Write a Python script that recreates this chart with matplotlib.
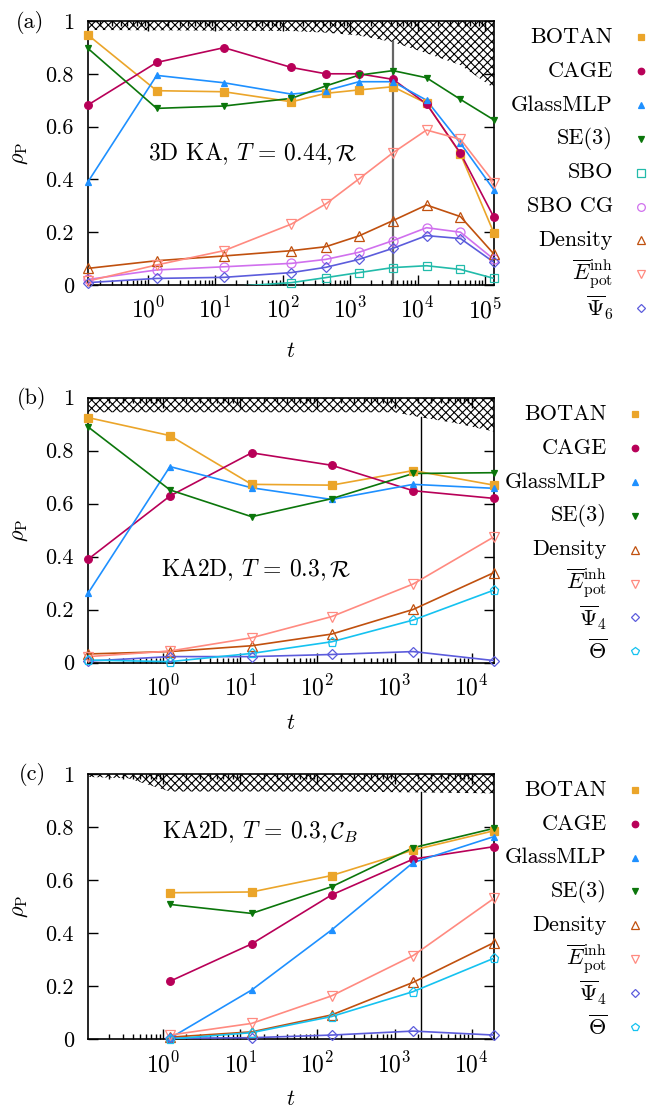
import numpy as np
import matplotlib
matplotlib.use("Agg")
import matplotlib.pyplot as plt
from matplotlib.lines import Line2D
from matplotlib.ticker import LogLocator, FixedLocator, NullFormatter, LogFormatterSciNotation

plt.rcParams['font.family'] = ['cmr10', 'DejaVu Serif']
plt.rcParams['mathtext.fontset'] = 'cm'
plt.rcParams['axes.formatter.use_mathtext'] = True
plt.rcParams['hatch.linewidth'] = 0.8

FS = 16

# ---------------- data ----------------
# panel (a): 3D KA, T=0.44, R
t_a = [0.1306, 1.36, 13.5, 135, 435, 1350, 4300, 13500, 43000, 134900]
a_botan = [0.947, 0.736, 0.732, 0.694, 0.726, 0.739, 0.751, 0.688, 0.496, 0.196]
a_cage = [0.682, 0.843, 0.899, 0.824, 0.800, 0.800, 0.779, 0.686, 0.499, 0.256]
a_glassmlp = [0.391, 0.794, 0.766, 0.723, 0.736, 0.770, 0.770, 0.700, 0.537, 0.360]
a_se3 = [0.896, 0.669, 0.678, 0.707, 0.754, 0.795, 0.812, 0.785, 0.703, 0.625]
a_sbo = [-0.02, -0.012, -0.008, 0.009, 0.028, 0.047, 0.066, 0.073, 0.059, 0.025]
a_sbocg = [0.021, 0.057, 0.069, 0.082, 0.097, 0.124, 0.168, 0.217, 0.200, 0.097]
a_density = [0.063, 0.092, 0.110, 0.130, 0.145, 0.186, 0.244, 0.303, 0.259, 0.117]
a_epot = [0.015, 0.076, 0.130, 0.231, 0.307, 0.402, 0.501, 0.587, 0.552, 0.388]
a_psi = [0.009, 0.025, 0.029, 0.047, 0.067, 0.097, 0.139, 0.187, 0.176, 0.086]
a_hatch_t = [0.1306, 135, 435, 1350, 4300, 13500, 43000, 134900]
a_hatch_y = [0.966, 0.962, 0.956, 0.945, 0.920, 0.878, 0.833, 0.745]
a_vline = 4300
a_xticks = [1, 10, 100, 1e3, 1e4, 1e5]

# panel (b): KA2D, T=0.3, R
t_b = [0.1055, 1.22, 14.0, 153, 1745, 19500]
b_botan = [0.925, 0.857, 0.673, 0.670, 0.725, 0.670]
b_cage = [0.390, 0.629, 0.792, 0.745, 0.649, 0.620]
b_glassmlp = [0.262, 0.740, 0.660, 0.616, 0.673, 0.658]
b_se3 = [0.890, 0.652, 0.551, 0.619, 0.714, 0.717]
b_density = [0.033, 0.042, 0.064, 0.108, 0.201, 0.340]
b_epot = [0.023, 0.044, 0.094, 0.174, 0.297, 0.475]
b_psi = [0.006, 0.023, 0.023, 0.031, 0.042, 0.008]
b_theta = [0.010, 0.004, 0.035, 0.079, 0.161, 0.274]
b_hatch_t = [0.1055, 1000, 2180, 6000, 19500]
b_hatch_y = [0.945, 0.945, 0.926, 0.905, 0.872]
b_vline = 2180
bc_xticks = [1, 10, 100, 1e3, 1e4]

# panel (c): KA2D, T=0.3, C_B
t_c = [1.22, 14.0, 153, 1745, 19500]
c_botan = [0.553, 0.556, 0.618, 0.714, 0.787]
c_cage = [0.219, 0.360, 0.545, 0.680, 0.727]
c_glassmlp = [0.004, 0.186, 0.413, 0.667, 0.765]
c_se3 = [0.509, 0.475, 0.576, 0.723, 0.796]
c_density = [0.008, 0.028, 0.092, 0.215, 0.365]
c_epot = [0.016, 0.060, 0.164, 0.316, 0.532]
c_psi = [0.004, 0.006, 0.016, 0.031, 0.016]
c_theta = [0.001, 0.025, 0.086, 0.180, 0.306]
c_hatch_t = [0.1055, 0.35, 1.22, 153, 1745, 19500]
c_hatch_y = [0.99, 0.985, 0.935, 0.935, 0.932, 0.928]
c_vline = 2180

y_ticks = [0, 0.2, 0.4, 0.6, 0.8, 1]
y_ticklabels = ["0", "0.2", "0.4", "0.6", "0.8", "1"]

# ---------------- styles ----------------
STY = {
    'BOTAN':    dict(color='#EBA52A', marker='s', mfc='#EBA52A', ms=5.5),
    'CAGE':     dict(color='#B80058', marker='o', mfc='#B80058', ms=5.5),
    'GlassMLP': dict(color='#1E90FF', marker='^', mfc='#1E90FF', ms=5),
    'SE(3)':    dict(color='#0B760B', marker='v', mfc='#0B760B', ms=5),
    'SBO':      dict(color='#22BBAA', marker='s', mfc='none', ms=6),
    'SBO CG':   dict(color='#D070EE', marker='o', mfc='none', ms=6.5),
    'Density':  dict(color='#C0500E', marker='^', mfc='none', ms=6.5),
    'Epot':     dict(color='#FF8A80', marker='v', mfc='none', ms=6.5),
    'Psi':      dict(color='#5C5CDC', marker='D', mfc='none', ms=4.8),
    'Theta':    dict(color='#15C2F0', marker='p', mfc='none', ms=6.5),
}

W, H = 662, 1112
fig = plt.figure(figsize=(W / 100, H / 100), dpi=100)


def add_axes(top_px, bot_px, left_px=88, right_px=494):
    return fig.add_axes([left_px / W, 1 - bot_px / H, (right_px - left_px) / W, (bot_px - top_px) / H])


def plot_series(ax, t, v, key):
    s = STY[key]
    t = np.asarray(t, float)
    v = np.asarray(v, float)
    ax.plot(t, v, '-', color=s['color'], lw=1.2, zorder=3)
    vm = np.where((v >= 0) & (v <= 1), v, np.nan)
    ax.plot(t, vm, linestyle='none', marker=s['marker'], mfc=s['mfc'], mec=s['color'],
            ms=s['ms'], mew=0.9, zorder=4, clip_on=False)


def style_axes(ax, xlim, xticks, ylabel_x, xlabel_y):
    ax.set_xscale('log')
    ax.set_xlim(*xlim)
    ax.set_ylim(0, 1)
    ax.yaxis.set_major_locator(FixedLocator(y_ticks))
    ax.set_yticklabels(y_ticklabels)
    ax.xaxis.set_major_locator(FixedLocator(xticks))
    ax.xaxis.set_minor_locator(LogLocator(base=10, subs=np.arange(2, 10), numticks=20))
    ax.xaxis.set_minor_formatter(NullFormatter())
    ax.xaxis.set_major_formatter(LogFormatterSciNotation())
    ax.tick_params(which='both', direction='in', top=True, right=True, labelsize=FS, width=1.0)
    ax.tick_params(which='major', length=7.5)
    ax.tick_params(axis='y', which='major', pad=10)
    ax.tick_params(axis='x', which='major', pad=9, labelsize=FS + 1)
    ax.tick_params(which='minor', length=3.8)
    ax.tick_params(axis='y', which='minor', left=False, right=False)
    for sp in ax.spines.values():
        sp.set_linewidth(1.2)
    ax.set_ylabel(r'$\rho_{\rm P}$', fontsize=FS)
    ax.set_xlabel(r'$t$', fontsize=FS)
    ax.yaxis.set_label_coords(ylabel_x, 0.5)
    ax.xaxis.set_label_coords(0.5, xlabel_y)


def hatch(ax, t, y):
    ax.fill_between(t, y, 1.0, facecolor='none', edgecolor='black', hatch='xxxx',
                    linewidth=0, zorder=2)


def legend(entries, label_right_px, marker_px, y0_px, dy_px):
    for i, (label, key) in enumerate(entries):
        ypx = y0_px + i * dy_px
        fig.text(label_right_px / W, 1 - ypx / H, label, ha='right', va='center', fontsize=FS)
        s = STY[key]
        fig.add_artist(Line2D([marker_px / W], [1 - ypx / H], transform=fig.transFigure,
                              linestyle='none', marker=s['marker'], mfc=s['mfc'], mec=s['color'],
                              ms=s['ms'] * 0.85, mew=0.9))


EP = r'$\overline{E}^{\rm inh}_{\rm pot}$'

# ---------------- panel (a) ----------------
axa = add_axes(21, 285)
hatch(axa, a_hatch_t, a_hatch_y)
axa.axvline(a_vline, ymax=0.92, color='#666666', lw=1.6, zorder=2.5)
plot_series(axa, t_a, a_botan, 'BOTAN')
plot_series(axa, t_a, a_cage, 'CAGE')
plot_series(axa, t_a, a_glassmlp, 'GlassMLP')
plot_series(axa, t_a, a_se3, 'SE(3)')
plot_series(axa, t_a, a_sbo, 'SBO')
plot_series(axa, t_a, a_sbocg, 'SBO CG')
plot_series(axa, t_a, a_density, 'Density')
plot_series(axa, t_a, a_epot, 'Epot')
plot_series(axa, t_a, a_psi, 'Psi')
style_axes(axa, (t_a[0], t_a[-1]), a_xticks, -0.143, -0.215)
axa.text(0.406, 0.496, r'3D KA, $T$ = 0.44,$\,\mathcal{R}$', transform=axa.transAxes,
         ha='center', va='center', fontsize=FS + 1)
fig.text(30 / W, 1 - 22 / H, '(a)', ha='center', va='center', fontsize=FS)
legend([('BOTAN', 'BOTAN'), ('CAGE', 'CAGE'), ('GlassMLP', 'GlassMLP'), ('SE(3)', 'SE(3)'),
        ('SBO', 'SBO'), ('SBO CG', 'SBO CG'), ('Density', 'Density'), (EP, 'Epot'),
        (r'$\overline{\Psi}_6$', 'Psi')], 613, 641, 37, 33.9)

# ---------------- panel (b) ----------------
axb = add_axes(397.7, 662.7)
hatch(axb, b_hatch_t, b_hatch_y)
axb.axvline(b_vline, ymax=0.926, color='black', lw=1.0, zorder=2.5)
plot_series(axb, t_b, b_botan, 'BOTAN')
plot_series(axb, t_b, b_cage, 'CAGE')
plot_series(axb, t_b, b_glassmlp, 'GlassMLP')
plot_series(axb, t_b, b_se3, 'SE(3)')
plot_series(axb, t_b, b_density, 'Density')
plot_series(axb, t_b, b_epot, 'Epot')
plot_series(axb, t_b, b_psi, 'Psi')
plot_series(axb, t_b, b_theta, 'Theta')
style_axes(axb, (t_b[0], t_b[-1]), bc_xticks, -0.143, -0.19)
axb.text(0.415, 0.352, r'KA2D, $T$ = 0.3,$\,\mathcal{R}$', transform=axb.transAxes,
         ha='center', va='center', fontsize=FS + 1)
fig.text(32 / W, 1 - 399 / H, '(b)', ha='center', va='center', fontsize=FS)
legend([('BOTAN', 'BOTAN'), ('CAGE', 'CAGE'), ('GlassMLP', 'GlassMLP'), ('SE(3)', 'SE(3)'),
        ('Density', 'Density'), (EP, 'Epot'), (r'$\overline{\Psi}_4$', 'Psi'),
        (r'$\overline{\Theta}$', 'Theta')], 607, 635, 414, 33.9)

# ---------------- panel (c) ----------------
axc = add_axes(774.3, 1039.3)
hatch(axc, c_hatch_t, c_hatch_y)
axc.axvline(c_vline, ymax=0.935, color='black', lw=1.0, zorder=2.5)
plot_series(axc, t_c, c_botan, 'BOTAN')
plot_series(axc, t_c, c_cage, 'CAGE')
plot_series(axc, t_c, c_glassmlp, 'GlassMLP')
plot_series(axc, t_c, c_se3, 'SE(3)')
plot_series(axc, t_c, c_density, 'Density')
plot_series(axc, t_c, c_epot, 'Epot')
plot_series(axc, t_c, c_psi, 'Psi')
plot_series(axc, t_c, c_theta, 'Theta')
style_axes(axc, (t_b[0], t_b[-1]), bc_xticks, -0.143, -0.19)
axc.text(0.424, 0.784, r'KA2D, $T$ = 0.3,$\,\mathcal{C}_B$', transform=axc.transAxes,
         ha='center', va='center', fontsize=FS + 1)
fig.text(32 / W, 1 - 775 / H, '(c)', ha='center', va='center', fontsize=FS)
legend([('BOTAN', 'BOTAN'), ('CAGE', 'CAGE'), ('GlassMLP', 'GlassMLP'), ('SE(3)', 'SE(3)'),
        ('Density', 'Density'), (EP, 'Epot'), (r'$\overline{\Psi}_4$', 'Psi'),
        (r'$\overline{\Theta}$', 'Theta')], 607, 635, 790, 33.8)

fig.savefig('out.png', dpi=100)
